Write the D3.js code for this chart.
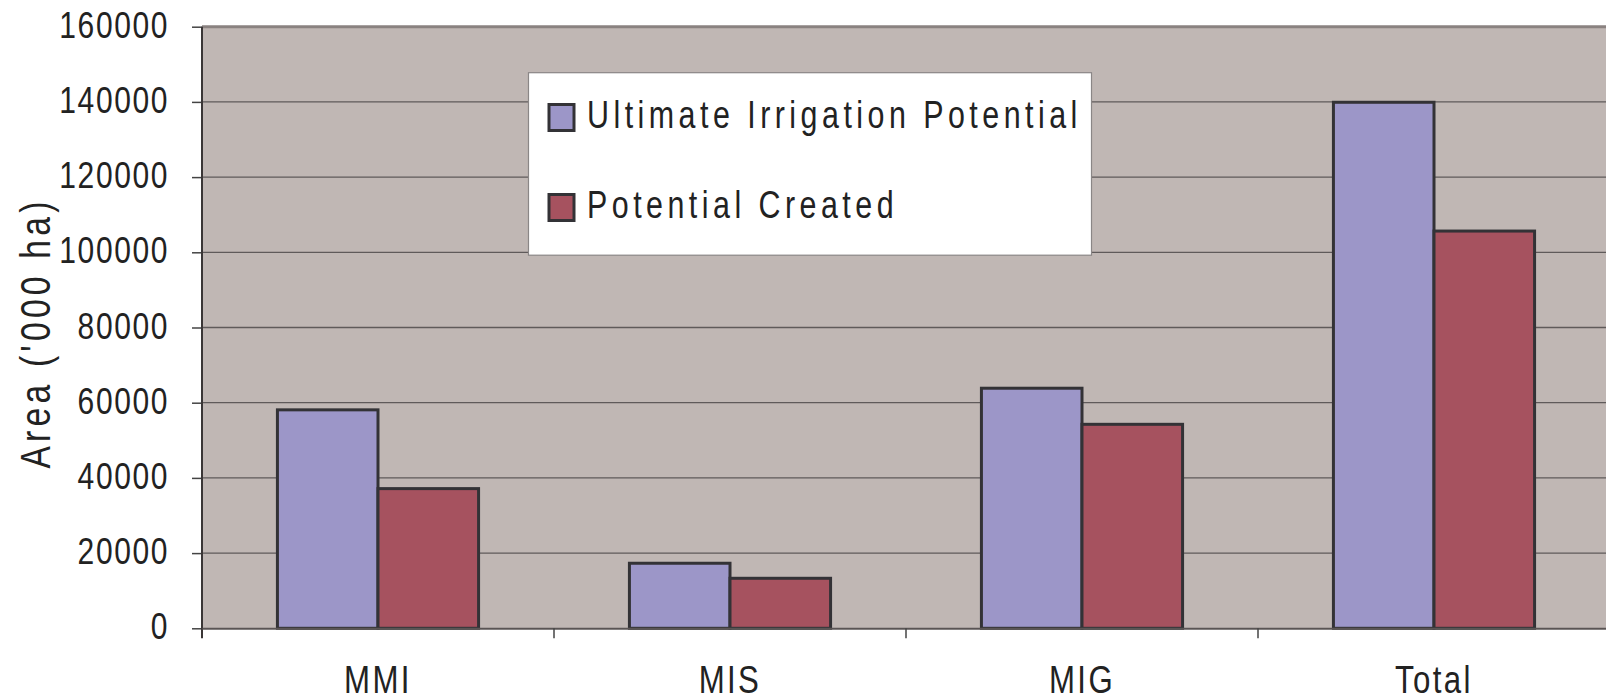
<!DOCTYPE html>
<html>
<head>
<meta charset="utf-8">
<script src="https://cdn.jsdelivr.net/npm/d3@7"></script>
<style>
  body { margin: 0; background: #fff; }
  svg text { font-family: "Liberation Sans", Arial, sans-serif; fill: #222; }
</style>
</head>
<body>
<div id="chart"></div>
<script>
// irrigation potential, '000 ha

const categories = ["MMI", "MIS", "MIG", "Total"];
const seriesNames = ["Ultimate Irrigation Potential", "Potential Created"];
const ultimate = [58100, 17300, 63850, 139900];
const created = [37150, 13300, 54250, 105650];
const yTicks = [0, 20000, 40000, 60000, 80000, 100000, 120000, 140000, 160000];
const colors = ["#9c96c8", "#a6525f"];

const width = 1606, height = 700;
const plot = { left: 202, top: 26.7, bottom: 628.3, right: 1610 };
const narrow = 0.8; // no narrow font installed, squeeze text horizontally

const svg = d3.select("#chart").append("svg")
  .attr("width", width)
  .attr("height", height);

const x = d3.scaleBand()
  .domain(categories)
  .range([plot.left, plot.right])
  .paddingInner(0)
  .paddingOuter(0);

const barW = x.bandwidth() / 3.5;

const y = d3.scaleLinear()
  .domain([0, 160000])
  .range([plot.bottom, plot.top]);

// plot background
svg.append("rect")
  .attr("x", plot.left)
  .attr("y", plot.top)
  .attr("width", plot.right - plot.left)
  .attr("height", plot.bottom - plot.top)
  .attr("fill", "#c0b7b4");

// gridlines
svg.append("g")
  .selectAll("line")
  .data(yTicks.filter(d => d > 0 && d < 160000))
  .enter().append("line")
  .attr("x1", plot.left)
  .attr("x2", plot.right)
  .attr("y1", d => y(d))
  .attr("y2", d => y(d))
  .attr("stroke", "#5f5a5a")
  .attr("stroke-width", 1.3);

// top border
svg.append("line")
  .attr("x1", plot.left).attr("x2", plot.right)
  .attr("y1", plot.top).attr("y2", plot.top)
  .attr("stroke", "#8a8280")
  .attr("stroke-width", 3);

// bars
const rows = categories.map((c, i) => ({ cat: c, vals: [ultimate[i], created[i]] }));

const groups = svg.append("g")
  .selectAll("g")
  .data(rows)
  .enter().append("g")
  .attr("transform", d => `translate(${x(d.cat) + x.bandwidth() / 2 - barW},0)`);

groups.selectAll("rect")
  .data(d => d.vals)
  .enter().append("rect")
  .attr("x", (d, i) => i * barW)
  .attr("y", d => y(d))
  .attr("width", barW)
  .attr("height", d => y(0) - y(d))
  .attr("fill", (d, i) => colors[i])
  .attr("stroke", "#333236")
  .attr("stroke-width", 3);

// y axis
const yAxis = svg.append("g")
  .attr("transform", `translate(${plot.left},0)`)
  .call(d3.axisLeft(y).tickValues(yTicks).tickSize(10).tickFormat(""));

yAxis.select(".domain").remove();
yAxis.selectAll(".tick line").attr("stroke", "#444").attr("stroke-width", 1.5);

yAxis.selectAll(".tick")
  .append("g")
  .attr("transform", `translate(-33,10.5) scale(${narrow},1)`)
  .append("text")
  .attr("text-anchor", "end")
  .attr("font-size", 37.5)
  .attr("letter-spacing", 2)
  .attr("fill", "#222")
  .text(d => d3.format("d")(d));

svg.append("line")
  .attr("x1", plot.left).attr("x2", plot.left)
  .attr("y1", plot.top).attr("y2", plot.bottom + 10)
  .attr("stroke", "#3a3636")
  .attr("stroke-width", 2);

// x axis
const xAxis = svg.append("g")
  .attr("transform", `translate(0,${plot.bottom})`)
  .call(d3.axisBottom(x).tickSize(0).tickPadding(0).tickFormat(""));
xAxis.select(".domain").attr("stroke", "#5a5454").attr("stroke-width", 2);

// category separators
svg.append("g")
  .selectAll("line")
  .data(categories.slice(1))
  .enter().append("line")
  .attr("x1", d => x(d)).attr("x2", d => x(d))
  .attr("y1", plot.bottom).attr("y2", plot.bottom + 10)
  .attr("stroke", "#444")
  .attr("stroke-width", 1.5);

svg.append("g")
  .selectAll("g")
  .data(categories)
  .enter().append("g")
  .attr("transform", d => `translate(${x(d) + x.bandwidth() / 2},693) scale(${narrow},1)`)
  .append("text")
  .attr("text-anchor", "middle")
  .attr("font-size", 39)
  .attr("letter-spacing", 3)
  .text(d => d);

// y title
svg.append("text")
  .attr("transform", `translate(50,333) rotate(-90) scale(${narrow},1)`)
  .attr("text-anchor", "middle")
  .attr("font-size", 42)
  .attr("letter-spacing", 5.3)
  .text("Area ('000 ha)");

// legend
const legend = svg.append("g");
legend.append("rect")
  .attr("x", 528.5).attr("y", 72.7)
  .attr("width", 563).attr("height", 182.5)
  .attr("fill", "#fff")
  .attr("stroke", "#8a8686")
  .attr("stroke-width", 1.2);

const items = legend.selectAll("g")
  .data(seriesNames)
  .enter().append("g")
  .attr("transform", (d, i) => `translate(0,${i * 90})`);

items.append("rect")
  .attr("x", 549).attr("y", 104.5)
  .attr("width", 25).attr("height", 26)
  .attr("fill", (d, i) => colors[i])
  .attr("stroke", "#333236")
  .attr("stroke-width", 3);

items.append("g")
  .attr("transform", `translate(587,128) scale(${narrow},1)`)
  .append("text")
  .attr("font-size", 38)
  .attr("letter-spacing", 5.6)
  .text(d => d);
</script>
</body>
</html>
